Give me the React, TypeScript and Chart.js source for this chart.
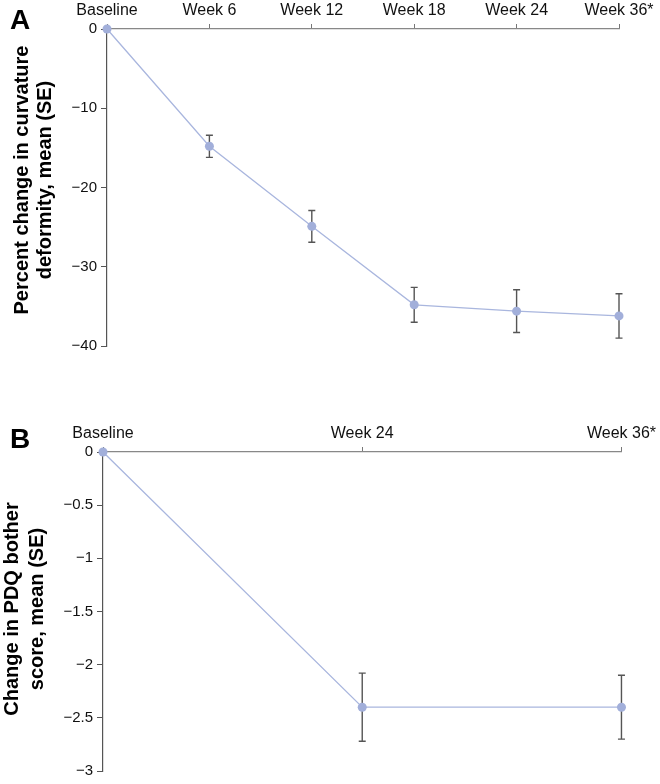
import React, { useEffect, useRef } from "react";
import { Chart, registerables } from "chart.js";

Chart.register(...registerables);

// ---- Panel A data ----
const categoriesA = ["Baseline", "Week 6", "Week 12", "Week 18", "Week 24", "Week 36*"];
const meanA = [0, -14.8, -24.9, -34.8, -35.6, -36.2];
const seA = [0, 1.4, 2.0, 2.2, 2.7, 2.8];
const titleA = ["Percent change in curvature", "deformity, mean (SE)"];

// ---- Panel B data ----
const categoriesB = ["Baseline", "Week 24", "Week 36*"];
const meanB = [0, -2.4, -2.4];
const seB = [0, 0.32, 0.3];
const titleB = ["Change in PDQ bother", "score, mean (SE)"];

const FONT = "'Liberation Sans', Arial, Helvetica, sans-serif";
const POINT_COLOR = "#a2afda";
const LINE_COLOR = "#a9b6de";

const errorBarPlugin = {
  id: "errorBars",
  beforeDatasetsDraw(chart: any, _args: any, opts: any) {
    const { ctx } = chart;
    const xs = chart.scales.x;
    const ys = chart.scales.y;
    const means: number[] = opts.means || [];
    const ses: number[] = opts.ses || [];
    ctx.save();
    ctx.strokeStyle = "#555";
    ctx.lineWidth = 1.4;
    means.forEach((m, i) => {
      const se = ses[i];
      if (!se) return;
      const x = xs.getPixelForValue(i);
      const yt = ys.getPixelForValue(m + se);
      const yb = ys.getPixelForValue(m - se);
      ctx.beginPath();
      ctx.moveTo(x, yt);
      ctx.lineTo(x, yb);
      ctx.moveTo(x - 3.5, yt);
      ctx.lineTo(x + 3.5, yt);
      ctx.moveTo(x - 3.5, yb);
      ctx.lineTo(x + 3.5, yb);
      ctx.stroke();
    });
    ctx.restore();
  },
};

const textPlugin = {
  id: "panelText",
  afterDraw(chart: any, _args: any, opts: any) {
    const { ctx } = chart;
    ctx.save();
    // panel letter
    ctx.font = `bold 28px ${FONT}`;
    ctx.fillStyle = "#000";
    ctx.textBaseline = "alphabetic";
    ctx.textAlign = "left";
    ctx.fillText(opts.letter, 10, opts.letterY);
    // rotated y-axis title
    ctx.font = `bold 20px ${FONT}`;
    ctx.textAlign = "center";
    const lines: string[] = opts.title || [];
    lines.forEach((line, i) => {
      ctx.save();
      ctx.translate(opts.titleX[i], opts.titleY);
      ctx.rotate(-Math.PI / 2);
      ctx.fillText(line, 0, 0);
      ctx.restore();
    });
    ctx.restore();
  },
};

const fmt = (v: any) => {
  const n = Number(v);
  if (n === 0) return "0";
  return (n < 0 ? "\u2212" : "") + String(Math.abs(n));
};

function makeConfig(p: {
  labels: string[];
  means: number[];
  ses: number[];
  title: string[];
  titleX: number[];
  titleY: number;
  min: number;
  step: number;
  left: number;
  top: number;
  right: number;
  bottom: number;
  letter: string;
  letterY: number;
}) {
  return {
    type: "line" as const,
    data: {
      labels: p.labels,
      datasets: [
        {
          data: p.means,
          borderColor: LINE_COLOR,
          borderWidth: 1.3,
          pointBackgroundColor: POINT_COLOR,
          pointBorderColor: POINT_COLOR,
          pointRadius: 4.5,
          pointBorderWidth: 0,
          tension: 0,
          clip: false as any,
        },
      ],
    },
    plugins: [errorBarPlugin, textPlugin],
    options: {
      animation: false as const,
      responsive: true,
      maintainAspectRatio: false,
      layout: { padding: { left: 0, top: 0, right: p.right, bottom: p.bottom } },
      plugins: {
        legend: { display: false },
        tooltip: { enabled: false },
        errorBars: { means: p.means, ses: p.ses },
        panelText: {
          letter: p.letter,
          letterY: p.letterY,
          title: p.title,
          titleX: p.titleX,
          titleY: p.titleY,
        },
      },
      scales: {
        x: {
          type: "category" as const,
          position: "top" as const,
          offset: false,
          grid: {
            display: true,
            drawOnChartArea: false,
            tickLength: 5,
            tickColor: "#777",
            tickWidth: 1,
          },
          border: { display: true, color: "#888", width: 1.2 },
          ticks: {
            color: "#111",
            font: { family: FONT, size: 16 },
            padding: 4,
            maxRotation: 0,
            autoSkip: false,
          },
          afterFit(scale: any) {
            scale.height = p.top;
          },
        },
        y: {
          type: "linear" as const,
          min: p.min,
          max: 0,
          ticks: {
            stepSize: p.step,
            color: "#111",
            font: { family: FONT, size: 15 },
            padding: 4,
            callback: (v: any) => fmt(v),
          },
          grid: {
            display: true,
            drawOnChartArea: false,
            tickLength: 6,
            tickColor: "#555",
            tickWidth: 1,
          },
          border: { display: true, color: "#555", width: 1.2 },
          afterFit(scale: any) {
            scale.width = p.left;
          },
        },
      },
    },
  };
}

function ChartPanel({ config, style }: { config: any; style: React.CSSProperties }) {
  const ref = useRef<HTMLCanvasElement | null>(null);
  useEffect(() => {
    if (!ref.current) return;
    const chart = new Chart(ref.current, config);
    return () => chart.destroy();
  }, [config]);
  return (
    <div style={{ position: "absolute", left: 0, width: 660, ...style }}>
      <canvas ref={ref} />
    </div>
  );
}

const configA = makeConfig({
  labels: categoriesA,
  means: meanA,
  ses: seA,
  title: titleA,
  titleX: [28, 51],
  titleY: 180,
  min: -40,
  step: 10,
  left: 107,
  top: 29,
  right: 41,
  bottom: 24,
  letter: "A",
  letterY: 29,
});

const configB = makeConfig({
  labels: categoriesB,
  means: meanB,
  ses: seB,
  title: titleB,
  titleX: [18, 43],
  titleY: 229,
  min: -3,
  step: 0.5,
  left: 103,
  top: 72,
  right: 35,
  bottom: 10,
  letter: "B",
  letterY: 68,
});

export default function App() {
  return (
    <div style={{ position: "absolute", left: 0, top: 0, width: 660, height: 784, background: "#fff" }}>
      <ChartPanel config={configA} style={{ top: 0, height: 370 }} />
      <ChartPanel config={configB} style={{ top: 380, height: 404 }} />
    </div>
  );
}
